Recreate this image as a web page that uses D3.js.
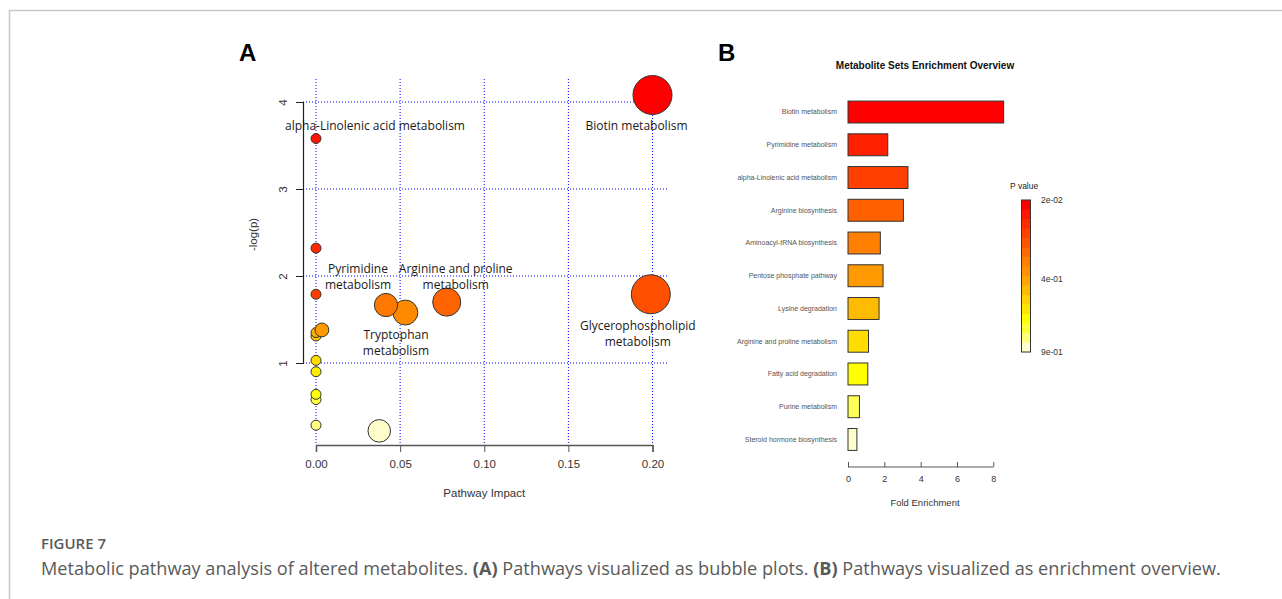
<!DOCTYPE html>
<html>
<head>
<meta charset="utf-8">
<script src="https://cdn.jsdelivr.net/npm/d3@7/dist/d3.min.js"></script>
<style>
  html, body { margin: 0; padding: 0; background: #fff; }
  svg { display: block; }
</style>
</head>
<body>
<svg id="fig" width="1282" height="599"></svg>
<script>
// ---------------- DATA ----------------
// Panel A: pathway impact vs -log(p)
const bubbleNames = [
  "Biotin metabolism", "alpha-Linolenic acid metabolism", "", "Pyrimidine metabolism",
  "Glycerophospholipid metabolism", "Arginine and proline metabolism", "Tryptophan metabolism", "",
  "", "", "", "", "", "", "", "", ""
];
const bubbleImpact = [0.200, 0.000, 0.000, 0.000, 0.199, 0.0777, 0.0416, 0.0531, 0.0035, 0.000, 0.000, 0.000, 0.000, 0.000, 0.000, 0.000, 0.0376];
const bubbleNegLogP = [4.08, 3.58, 2.32, 1.79, 1.79, 1.70, 1.666, 1.58, 1.38, 1.35, 1.31, 1.03, 0.90, 0.64, 0.58, 0.285, 0.22];
const xTicksA = [0.00, 0.05, 0.10, 0.15, 0.20];
const yTicksA = [1, 2, 3, 4];

// Panel B: enrichment overview
const setNames = [
  "Biotin metabolism", "Pyrimidine metabolism", "alpha-Linolenic acid metabolism", "Arginine biosynthesis",
  "Aminoacyl-tRNA biosynthesis", "Pentose phosphate pathway", "Lysine degradation",
  "Arginine and proline metabolism", "Fatty acid degradation", "Purine metabolism", "Steroid hormone biosynthesis"
];
const foldEnrichment = [8.57, 2.19, 3.30, 3.05, 1.78, 1.93, 1.71, 1.13, 1.09, 0.63, 0.49];
const xTicksB = [0, 2, 4, 6, 8];
const legendLabels = ["2e-02", "4e-01", "9e-01"];

// ---------------- HELPERS ----------------
const heat = d3.piecewise(d3.interpolateRgb, [
  "#ff0000", "#ff2000", "#ff4000", "#ff6000", "#ff8000", "#ff9a00",
  "#ffbb00", "#ffdd00", "#ffff00", "#ffff55", "#ffffcc"
]);

const svg = d3.select("#fig");

// frame
svg.append("path").attr("d", "M9.5,599 L9.5,10.5 L1282,10.5")
  .attr("fill", "none").attr("stroke", "#c8c8c8").attr("stroke-width", 1.5);

// ---------------- PANEL A ----------------
const xA = d3.scaleLinear().domain([0, 0.2]).range([316, 652.5]);
const yA = d3.scaleLinear().domain([1, 4]).range([363, 102]);
const rA = d3.scaleSqrt().domain([0, 0.2]).range([0, 14.5]);

const gA = svg.append("g");
gA.append("text").attr("x", 239).attr("y", 61).text("A")
  .attr("font-family", "Liberation Sans, Arial, sans-serif").attr("font-weight", "bold").attr("font-size", 24);

// grid
const gridColor = "#0000ff";
gA.selectAll("line.vg").data(xTicksA).join("line")
  .attr("x1", d => xA(d)).attr("x2", d => xA(d)).attr("y1", 79).attr("y2", 445)
  .attr("stroke", gridColor).attr("stroke-width", 1).attr("stroke-dasharray", "1,2");
gA.selectAll("line.hg").data(yTicksA).join("line")
  .attr("y1", d => yA(d)).attr("y2", d => yA(d)).attr("x1", 303).attr("x2", 667)
  .attr("stroke", gridColor).attr("stroke-width", 1).attr("stroke-dasharray", "1,2");

// axes
const axFont = "Liberation Sans, Arial, sans-serif";
const xAxisA = gA.append("g").attr("transform", "translate(0,445)")
  .call(d3.axisBottom(xA).tickValues(xTicksA).tickFormat(d3.format(".2f")).tickSize(7).tickPadding(8));
xAxisA.select(".domain").attr("stroke", "#555").attr("stroke-width", 1.5);
xAxisA.selectAll(".tick line").attr("stroke", "#555");
xAxisA.selectAll("text").attr("font-family", axFont).attr("font-size", 11.5).attr("fill", "#333");

const yAxisA = gA.append("g").attr("transform", "translate(303,0)")
  .call(d3.axisLeft(yA).tickValues(yTicksA).tickFormat(d3.format("d")).tickSize(7).tickPadding(0));
yAxisA.select(".domain").attr("stroke", "#222").attr("stroke-width", 1.2);
yAxisA.selectAll(".tick line").attr("stroke", "#222");
yAxisA.selectAll("text").attr("font-family", axFont).attr("font-size", 11.5).attr("fill", "#333")
  .attr("text-anchor", "middle").attr("transform", "translate(-20,0) rotate(-90)").attr("x", 0).attr("dy", "0.35em");

gA.append("text").attr("transform", `translate(257,${(yA(1) + yA(4)) / 2 + 2}) rotate(-90)`)
  .attr("text-anchor", "middle").attr("font-family", axFont).attr("font-size", 11.5).attr("fill", "#333")
  .text("-log(p)");
gA.append("text").attr("x", (xA(0) + xA(0.2)) / 2).attr("y", 497)
  .attr("text-anchor", "middle").attr("font-family", axFont).attr("font-size", 11.5).attr("fill", "#333")
  .text("Pathway Impact");

// bubbles, coloured by rank of p
const bubbles = bubbleImpact.map((v, i) => ({ name: bubbleNames[i], impact: v, nlp: bubbleNegLogP[i] }));
const ranked = bubbles.slice().sort((a, b) => b.nlp - a.nlp);
ranked.forEach((d, i) => d.t = i / (ranked.length - 1));
const drawOrder = bubbles.slice().sort((a, b) => a.nlp - b.nlp);
gA.selectAll("circle.b").data(drawOrder).join("circle")
  .attr("cx", d => xA(d.impact)).attr("cy", d => yA(d.nlp))
  .attr("r", d => 5 + rA(d.impact))
  .attr("fill", d => heat(d.t)).attr("stroke", "#333").attr("stroke-width", 1);

// labels (pixel offsets from the bubble centre)
const labelLayout = [
  { name: "Biotin metabolism", lines: ["Biotin metabolism"], dx: -16, dy: 30 },
  { name: "alpha-Linolenic acid metabolism", lines: ["alpha-Linolenic acid metabolism"], dx: 59, dy: -13 },
  { name: "Pyrimidine metabolism", lines: ["Pyrimidine", "metabolism"], dx: 42, dy: -26 },
  { name: "Arginine and proline metabolism", lines: ["Arginine and proline", "metabolism"], dx: 9, dy: -34 },
  { name: "Tryptophan metabolism", lines: ["Tryptophan", "metabolism"], dx: 10, dy: 29 },
  { name: "Glycerophospholipid metabolism", lines: ["Glycerophospholipid", "metabolism"], dx: -13, dy: 31 }
];
labelLayout.forEach(l => {
  const b = bubbles.find(d => d.name === l.name);
  const t = gA.append("text").attr("font-family", "Open Sans, Noto Sans, sans-serif")
    .attr("font-size", 12).attr("fill", "#1a1a1a").attr("text-anchor", "middle");
  l.lines.forEach((s, k) => {
    t.append("tspan").attr("x", xA(b.impact) + l.dx).attr("y", yA(b.nlp) + l.dy + k * 16.5)
      .attr("dominant-baseline", "central").text(s);
  });
});

// ---------------- PANEL B ----------------
const gB = svg.append("g");
gB.append("text").attr("x", 718).attr("y", 61).text("B")
  .attr("font-family", "Liberation Sans, Arial, sans-serif").attr("font-weight", "bold").attr("font-size", 24);
gB.append("text").attr("x", 925).attr("y", 69).attr("text-anchor", "middle")
  .attr("font-family", axFont).attr("font-weight", "bold").attr("font-size", 10).attr("fill", "#111")
  .text("Metabolite Sets Enrichment Overview");

const xB = d3.scaleLinear().domain([0, 8]).range([848, 993.3]);
const yB = d3.scaleBand().domain(setNames).range([95.5, 456]).paddingInner(0.33).paddingOuter(0.17);

gB.selectAll("rect.bar").data(setNames).join("rect")
  .attr("x", xB(0)).attr("y", d => yB(d))
  .attr("width", (d, i) => xB(foldEnrichment[i]) - xB(0)).attr("height", yB.bandwidth())
  .attr("fill", (d, i) => heat(i / (setNames.length - 1)))
  .attr("stroke", "#333").attr("stroke-width", 1);

gB.selectAll("text.lab").data(setNames).join("text")
  .attr("x", 837).attr("y", d => yB(d) + yB.bandwidth() / 2).attr("dy", "0.35em")
  .attr("text-anchor", "end").attr("font-family", axFont).attr("font-size", 7).attr("fill", "#555")
  .text(d => d);

const xAxisB = gB.append("g").attr("transform", "translate(0,467)")
  .call(d3.axisTop(xB).tickValues(xTicksB).tickSize(5).tickFormat(d3.format("d")));
xAxisB.select(".domain").attr("stroke", "#555").attr("d", `M${xB(0)},0H${xB(8)}`);
xAxisB.selectAll(".tick line").attr("stroke", "#555");
xAxisB.selectAll("text").attr("font-family", axFont).attr("font-size", 9).attr("fill", "#333")
  .attr("y", 15).attr("dy", "0");
gB.append("text").attr("x", 925).attr("y", 506).attr("text-anchor", "middle")
  .attr("font-family", axFont).attr("font-size", 9.5).attr("fill", "#333").text("Fold Enrichment");

// legend
const legTop = 200, legBot = 352, legX = 1021.5, legW = 9;
const nSteps = 16;
const stepH = (legBot - legTop) / nSteps;
gB.selectAll("rect.leg").data(d3.range(nSteps)).join("rect")
  .attr("x", legX).attr("y", d => legTop + d * stepH).attr("width", legW).attr("height", stepH + 0.5)
  .attr("fill", d => heat(d / (nSteps - 1)));
gB.append("rect").attr("x", legX).attr("y", legTop).attr("width", legW).attr("height", legBot - legTop)
  .attr("fill", "none").attr("stroke", "#333").attr("stroke-width", 1);
gB.append("text").attr("x", 1010).attr("y", 189).attr("font-family", axFont).attr("font-size", 8.5)
  .attr("fill", "#222").text("P value");
const legY = [legTop, 279, legBot];
gB.selectAll("text.legl").data(legendLabels).join("text")
  .attr("x", 1041).attr("y", (d, i) => legY[i]).attr("dy", "0.35em")
  .attr("font-family", axFont).attr("font-size", 8.5).attr("fill", "#333").text(d => d);

// ---------------- CAPTION ----------------
svg.append("text").attr("x", 41).attr("y", 549).attr("font-family", "Open Sans, sans-serif")
  .attr("font-weight", 600).attr("font-size", 15).attr("fill", "#5a5a5a").text("FIGURE 7");
const cap = svg.append("text").attr("x", 41).attr("y", 575).attr("font-family", "Open Sans, sans-serif")
  .attr("font-size", 15).attr("fill", "#5a5a5a");
const capParts = [
  ["Metabolic pathway analysis of altered metabolites. ", 400],
  ["(A)", 700], [" Pathways visualized as bubble plots. ", 400],
  ["(B)", 700], [" Pathways visualized as enrichment overview.", 400]
];
capParts.forEach(p => cap.append("tspan").attr("font-weight", p[1]).text(p[0]));
// fit caption width to the figure's line length
const w = cap.node().getComputedTextLength();
cap.attr("font-size", 15 * 1181 / w);
</script>
</body>
</html>
